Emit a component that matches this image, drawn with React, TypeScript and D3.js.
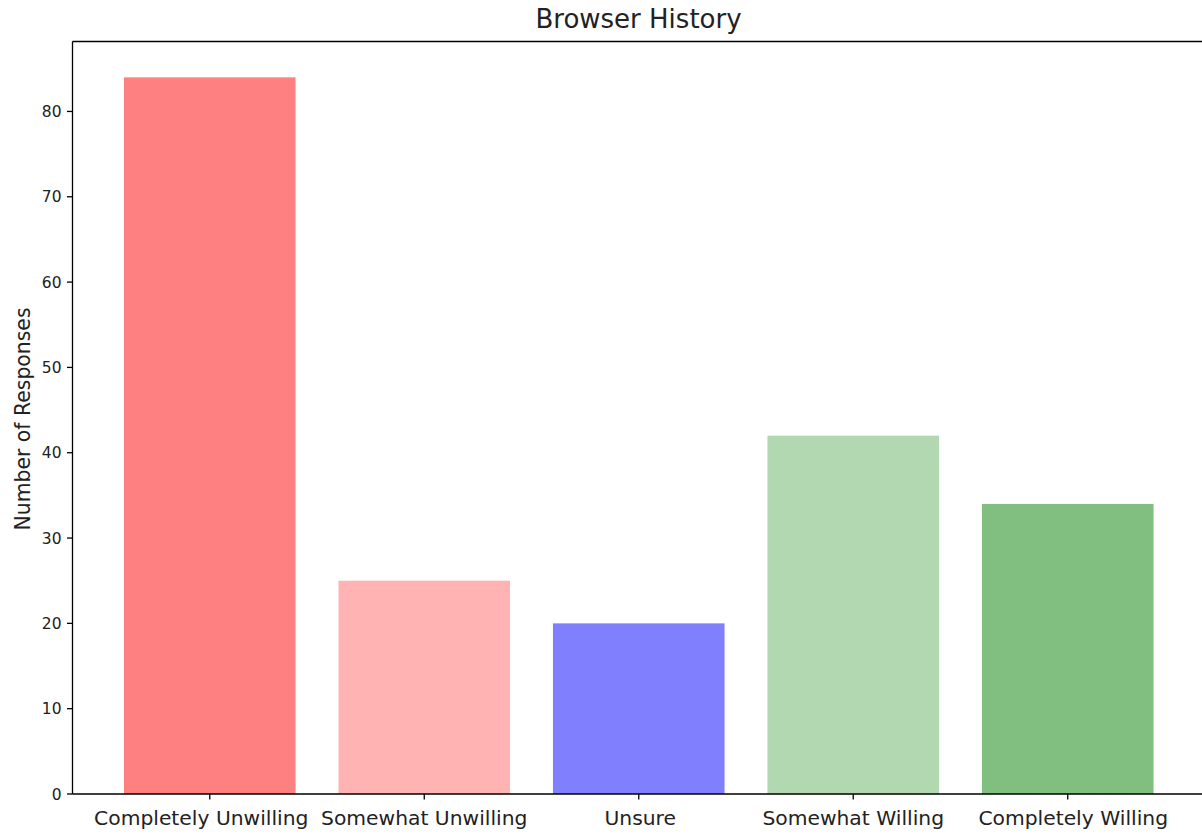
import React from "react";
import * as d3 from "d3";

const categories = ["Completely Unwilling", "Somewhat Unwilling", "Unsure", "Somewhat Willing", "Completely Willing"];
const responses = [84, 25, 20, 42, 34];
const barColors = ["#ff8080", "#ffb3b3", "#8080ff", "#b2d8b2", "#80bf80"];
const yTicks = [0, 10, 20, 30, 40, 50, 60, 70, 80];
const title = "Browser History";
const yLabel = "Number of Responses";

const W = 1202;
const H = 834;
const FONT = "DejaVu Sans, sans-serif";

export default function App() {
  const left = 72.5;
  const right = 1205;
  const top = 41.5;
  const bottom = 794;
  const x = d3.scaleLinear().domain([-0.64, categories.length - 1 + 0.64]).range([left, right]);
  const y = d3.scaleLinear().domain([0, d3.max(responses)! * 1.05]).range([bottom, top]);
  const bw = x(0.8) - x(0);
  const labelNudge = (i: number) => (i === 0 ? -8.5 : i === categories.length - 1 ? 5.5 : i === 2 ? 1.5 : 0);
  return (
    <svg width={W} height={H} style={{ position: "absolute", left: 0, top: 0, background: "#fff" }} fontFamily={FONT}>
      <rect x={0} y={0} width={W} height={H} fill="#fff" />
      {responses.map((v, i) => (
        <rect key={i} x={x(i) - bw / 2} y={y(v)} width={bw} height={y(0) - y(v)} fill={barColors[i]} />
      ))}
      {/* spines */}
      <line x1={left} x2={left} y1={top} y2={bottom} stroke="#000" strokeWidth={1.3} />
      <line x1={left} x2={right + 5} y1={bottom} y2={bottom} stroke="#000" strokeWidth={1.3} />
      <line x1={left} x2={right + 5} y1={top} y2={top} stroke="#000" strokeWidth={1.3} />
      {yTicks.map((t) => (
        <g key={t}>
          <line x1={left - 5.5} x2={left} y1={y(t)} y2={y(t)} stroke="#000" strokeWidth={1.3} />
          <text x={left - 11} y={y(t)} dy="0.36em" textAnchor="end" fontSize={15.5} fill="#222">
            {t}
          </text>
        </g>
      ))}
      {categories.map((c, i) => (
        <g key={c}>
          <line x1={x(i)} x2={x(i)} y1={bottom} y2={bottom + 5.5} stroke="#000" strokeWidth={1.3} />
          <text x={x(i) + labelNudge(i)} y={825} textAnchor="middle" fontSize={20.3} fill="#222">
            {c}
          </text>
        </g>
      ))}
      <text x={638.5} y={28} textAnchor="middle" fontSize={26} fill="#222">
        {title}
      </text>
      <text transform={`translate(30, 419) rotate(-90)`} textAnchor="middle" fontSize={20.4} fill="#222">
        {yLabel}
      </text>
    </svg>
  );
}
